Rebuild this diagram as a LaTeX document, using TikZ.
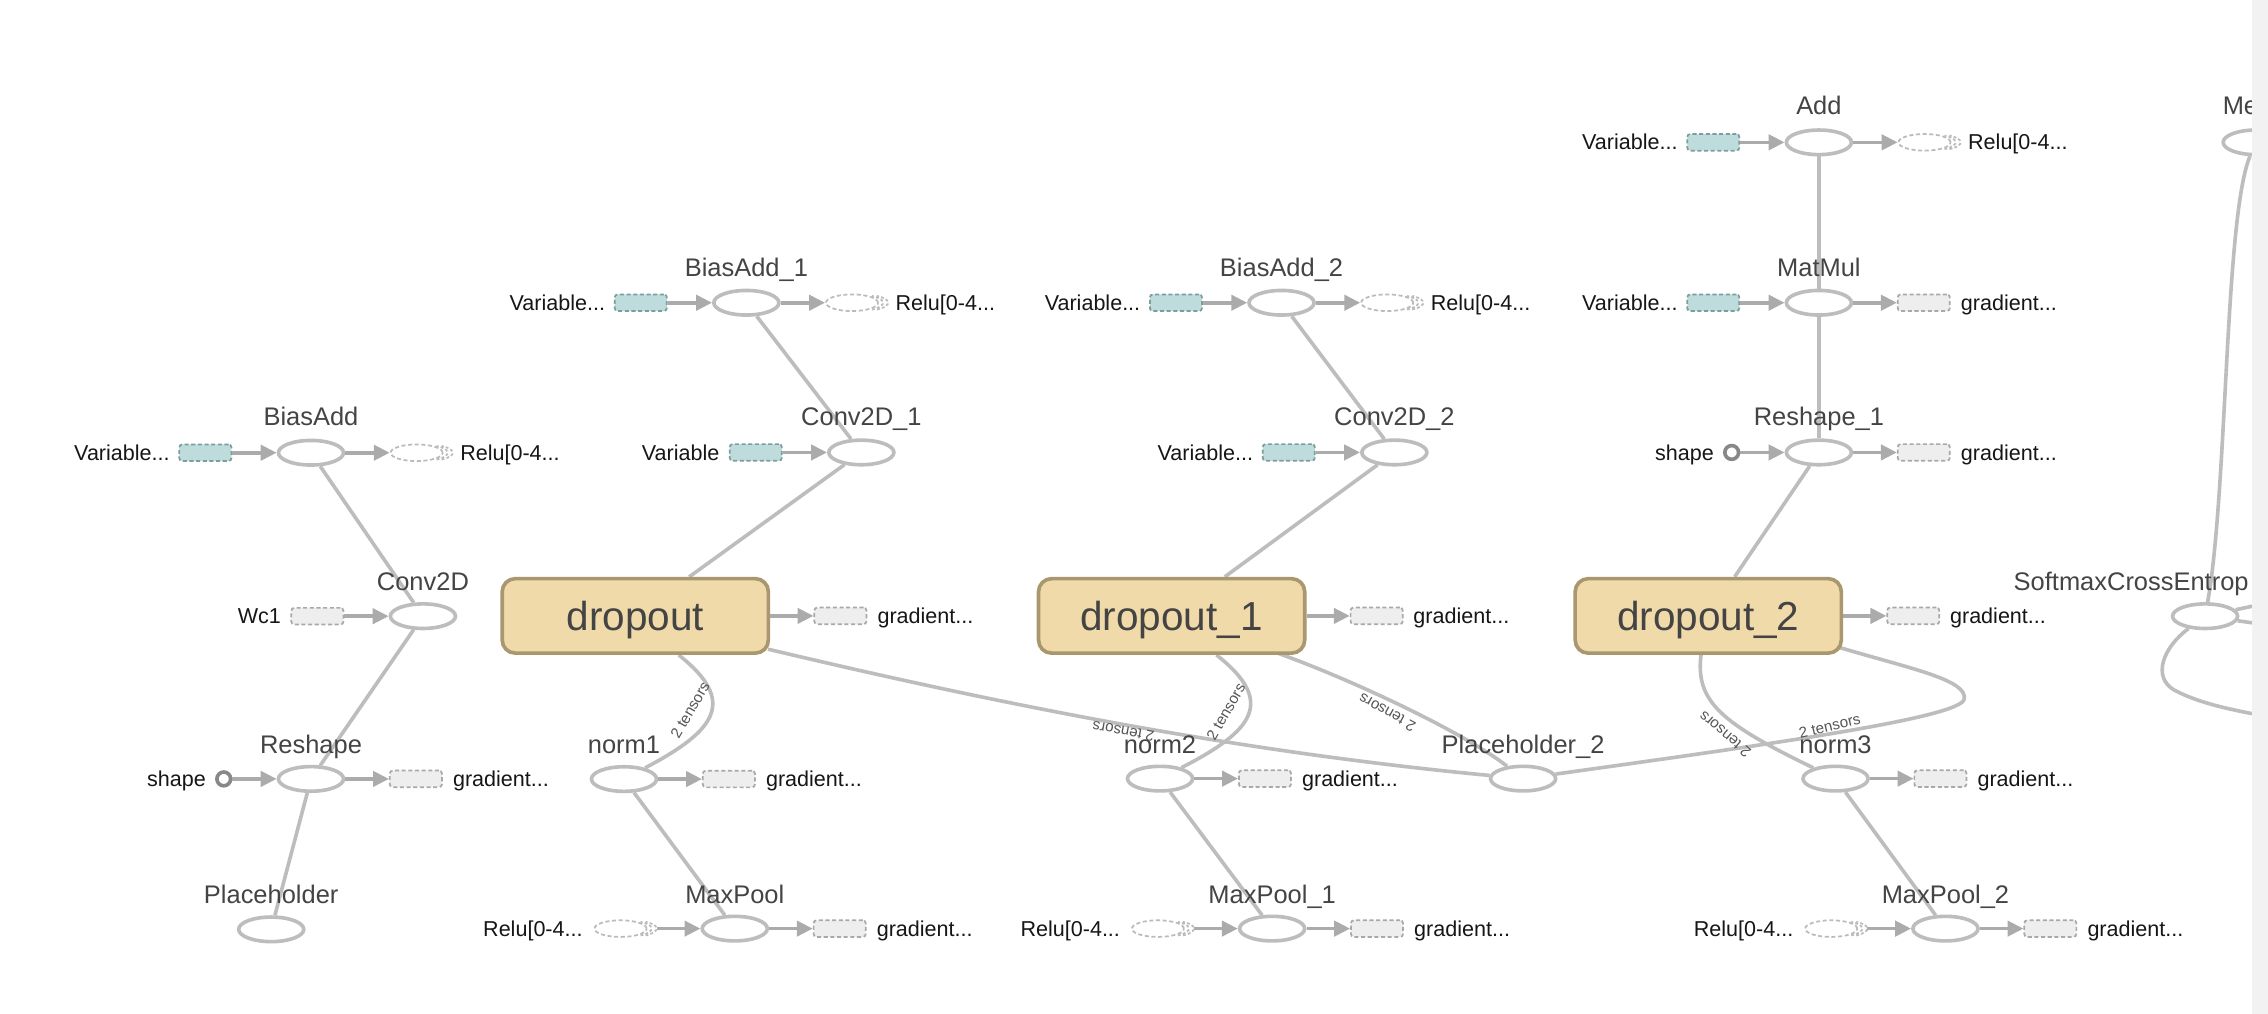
\documentclass[tikz,border=0pt]{standalone}
\usepackage{fontspec}
\setmainfont{Liberation Sans}
\usetikzlibrary{shapes.geometric,arrows.meta}
\pgfdeclarelayer{bg}
\pgfsetlayers{bg,main}
\definecolor{edgec}{HTML}{BDBDBD}
\definecolor{arrc}{HTML}{ABABAB}
\definecolor{labc}{HTML}{444444}
\definecolor{sidec}{HTML}{161616}
\definecolor{dropf}{HTML}{F0DAA9}
\definecolor{dropb}{HTML}{A8976F}
\definecolor{varf}{HTML}{BDDCDB}
\definecolor{varb}{HTML}{7E9E9E}
\definecolor{gradf}{HTML}{EEEEEE}
\definecolor{gradb}{HTML}{A9A9A9}
\definecolor{serc}{HTML}{BBBBBB}
\definecolor{shapeb}{HTML}{888888}
\definecolor{panelc}{HTML}{F2F2F2}
\definecolor{tensc}{HTML}{555555}
\newcommand{\serarcs}[1]{%
  \foreach \dx in {3.5,7}{%
    \draw[serarc] ([xshift=\dx pt]#1.center) ++(-55:18pt and 5.75pt)
      arc[start angle=-55,end angle=55,x radius=18pt,y radius=5.75pt];}}
\begin{document}
\begin{tikzpicture}[x=1pt,y=-1pt,
  opnode/.style={ellipse,draw=edgec,fill=white,line width=2.5pt,minimum width=45pt,minimum height=17pt,inner sep=0pt},
  metabox/.style={rectangle,rounded corners=9pt,draw=dropb,fill=dropf,line width=2.5pt,minimum width=184pt,minimum height=51.5pt,inner sep=0pt,text=labc,font=\fontsize{28}{30}\selectfont,text height=26pt,text depth=5.8pt},
  varbox/.style={rectangle,rounded corners=2pt,draw=varb,fill=varf,line width=1.2pt,dash pattern=on 2.8pt off 1.8pt,minimum width=36pt,minimum height=11.5pt,inner sep=0pt},
  gradbox/.style={varbox,draw=gradb,fill=gradf},
  seriesnode/.style={ellipse,draw=serc,line width=1.2pt,dash pattern=on 2.8pt off 1.8pt,minimum width=36pt,minimum height=11.5pt,inner sep=0pt},
  serarc/.style={draw=serc,line width=1.2pt,dash pattern=on 2pt off 1.5pt},
  shapenode/.style={circle,draw=shapeb,fill=white,line width=2.5pt,minimum size=9.5pt,inner sep=0pt},
  nlab/.style={anchor=base,inner sep=0pt,text=labc,font=\fontsize{17.6}{19}\selectfont},
  stxt/.style={inner sep=0pt,text=sidec,font=\fontsize{14.9}{16}\selectfont},
  link/.style={draw=edgec,line width=2.5pt},
  arr/.style={draw=arrc,line width=2.5pt,-{Triangle[length=11pt,width=10.5pt]}},
  tens/.style={inner sep=0pt,text=tensc,font=\fontsize{10.5}{11}\selectfont}]
\useasboundingbox (0,0) rectangle (1568,701);
\begin{pgfonlayer}{bg}
\fill[white] (0,0) rectangle (1568,701);
\end{pgfonlayer}

% ---------- group 1 ----------
\node[opnode] (BiasAdd) at (215,313) {};
\node[nlab] (BiasAdd-l) at (215,294.5) {BiasAdd};
\node[varbox] (BiasAdd-v) at (142,313) {};
\node[stxt,anchor=base east] (BiasAdd-vt) at (117.5,318.3) {Variable...};
\node[seriesnode] (BiasAdd-r) at (288,313) {};
\serarcs{BiasAdd-r}
\node[stxt,anchor=base west] (BiasAdd-rt) at (318,318.3) {Relu[0-4...};

\node[opnode] (Conv2D) at (292.4,426) {};
\node[nlab] (Conv2D-l) at (292.4,407.9) {Conv2D};
\node[gradbox] (Conv2D-v) at (219.4,426) {};
\node[stxt,anchor=base east] (Conv2D-vt) at (194.4,431.3) {Wc1};

\node[opnode] (Reshape) at (215,538.5) {};
\node[nlab] (Reshape-l) at (215,520.8) {Reshape};
\node[shapenode] (Reshape-s) at (154.7,538.5) {};
\node[stxt,anchor=base east] (Reshape-st) at (142.5,543.8) {shape};
\node[gradbox] (Reshape-g) at (287.5,538.5) {};
\node[stxt,anchor=base west] (Reshape-gt) at (313,543.8) {gradient...};

\node[opnode] (Placeholder) at (187.5,642.5) {};
\node[nlab] (Placeholder-l) at (187.5,624.5) {Placeholder};

% ---------- group 2 ----------
\node[opnode] (BiasAdd1) at (516,209.3) {};
\node[nlab] (BiasAdd1-l) at (516,191.3) {BiasAdd\_1};
\node[varbox] (BiasAdd1-v) at (443,209.3) {};
\node[stxt,anchor=base east] (BiasAdd1-vt) at (418.5,214.6) {Variable...};
\node[seriesnode] (BiasAdd1-r) at (589,209.3) {};
\serarcs{BiasAdd1-r}
\node[stxt,anchor=base west] (BiasAdd1-rt) at (619,214.6) {Relu[0-4...};

\node[opnode] (Conv2D1) at (595.5,312.8) {};
\node[nlab] (Conv2D1-l) at (595.5,294.5) {Conv2D\_1};
\node[varbox] (Conv2D1-v) at (522.5,312.8) {};
\node[stxt,anchor=base east] (Conv2D1-vt) at (497.5,318.1) {Variable};

\node[metabox] (dropout) at (439.2,425.8) {dropout};
\node[gradbox] (dropout-g) at (581,425.8) {};
\node[stxt,anchor=base west] (dropout-gt) at (606.5,431.1) {gradient...};

\node[opnode] (norm1) at (431.4,538.6) {};
\node[nlab] (norm1-l) at (431.4,520.8) {norm1};
\node[gradbox] (norm1-g) at (503.9,538.6) {};
\node[stxt,anchor=base west] (norm1-gt) at (529.4,543.9) {gradient...};

\node[opnode] (MaxPool) at (508,642) {};
\node[nlab] (MaxPool-l) at (508,624.5) {MaxPool};
\node[seriesnode] (MaxPool-r) at (429,642) {};
\serarcs{MaxPool-r}
\node[stxt,anchor=base east] (MaxPool-rt) at (403,647.3) {Relu[0-4...};
\node[gradbox] (MaxPool-g) at (580.5,642) {};
\node[stxt,anchor=base west] (MaxPool-gt) at (606,647.3) {gradient...};

% ---------- group 3 ----------
\node[opnode] (BiasAdd2) at (886,209.3) {};
\node[nlab] (BiasAdd2-l) at (886,191.3) {BiasAdd\_2};
\node[varbox] (BiasAdd2-v) at (813,209.3) {};
\node[stxt,anchor=base east] (BiasAdd2-vt) at (788.5,214.6) {Variable...};
\node[seriesnode] (BiasAdd2-r) at (959,209.3) {};
\serarcs{BiasAdd2-r}
\node[stxt,anchor=base west] (BiasAdd2-rt) at (989,214.6) {Relu[0-4...};

\node[opnode] (Conv2D2) at (964,312.8) {};
\node[nlab] (Conv2D2-l) at (964,294.5) {Conv2D\_2};
\node[varbox] (Conv2D2-v) at (891,312.8) {};
\node[stxt,anchor=base east] (Conv2D2-vt) at (866.5,318.1) {Variable...};

\node[metabox] (dropout1) at (810,425.8) {dropout\_1};
\node[gradbox] (dropout1-g) at (951.75,425.8) {};
\node[stxt,anchor=base west] (dropout1-gt) at (977,431.1) {gradient...};

\node[opnode] (norm2) at (802,538.3) {};
\node[nlab] (norm2-l) at (802,520.8) {norm2};
\node[gradbox] (norm2-g) at (874.5,538.3) {};
\node[stxt,anchor=base west] (norm2-gt) at (900,543.6) {gradient...};

\node[opnode] (MaxPool1) at (879.5,642) {};
\node[nlab] (MaxPool1-l) at (879.5,624.5) {MaxPool\_1};
\node[seriesnode] (MaxPool1-r) at (800.5,642) {};
\serarcs{MaxPool1-r}
\node[stxt,anchor=base east] (MaxPool1-rt) at (774.5,647.3) {Relu[0-4...};
\node[gradbox] (MaxPool1-g) at (952,642) {};
\node[stxt,anchor=base west] (MaxPool1-gt) at (977.5,647.3) {gradient...};

\node[opnode] (Placeholder2) at (1053,538.3) {};
\node[nlab] (Placeholder2-l) at (1053,520.8) {Placeholder\_2};

% ---------- group 4 ----------
\node[opnode] (Add) at (1257.5,98.4) {};
\node[nlab] (Add-l) at (1257.5,79.5) {Add};
\node[varbox] (Add-v) at (1184.5,98.4) {};
\node[stxt,anchor=base east] (Add-vt) at (1160,103.7) {Variable...};
\node[seriesnode] (Add-r) at (1330.5,98.4) {};
\serarcs{Add-r}
\node[stxt,anchor=base west] (Add-rt) at (1360.5,103.7) {Relu[0-4...};

\node[opnode] (MatMul) at (1257.5,209.3) {};
\node[nlab] (MatMul-l) at (1257.5,191.3) {MatMul};
\node[varbox] (MatMul-v) at (1184.5,209.3) {};
\node[stxt,anchor=base east] (MatMul-vt) at (1160,214.6) {Variable...};
\node[gradbox] (MatMul-g) at (1330,209.3) {};
\node[stxt,anchor=base west] (MatMul-gt) at (1355.5,214.6) {gradient...};

\node[opnode] (Reshape1) at (1257.5,312.8) {};
\node[nlab] (Reshape1-l) at (1257.5,294.5) {Reshape\_1};
\node[shapenode] (Reshape1-s) at (1197.2,312.8) {};
\node[stxt,anchor=base east] (Reshape1-st) at (1185,318.1) {shape};
\node[gradbox] (Reshape1-g) at (1330,312.8) {};
\node[stxt,anchor=base west] (Reshape1-gt) at (1355.5,318.1) {gradient...};

\node[metabox] (dropout2) at (1181,425.8) {dropout\_2};
\node[gradbox] (dropout2-g) at (1322.75,425.8) {};
\node[stxt,anchor=base west] (dropout2-gt) at (1348,431.1) {gradient...};

\node[opnode] (norm3) at (1269,538.3) {};
\node[nlab] (norm3-l) at (1269,520.8) {norm3};
\node[gradbox] (norm3-g) at (1341.5,538.3) {};
\node[stxt,anchor=base west] (norm3-gt) at (1367,543.6) {gradient...};

\node[opnode] (MaxPool2) at (1345,642) {};
\node[nlab] (MaxPool2-l) at (1345,624.5) {MaxPool\_2};
\node[seriesnode] (MaxPool2-r) at (1266,642) {};
\serarcs{MaxPool2-r}
\node[stxt,anchor=base east] (MaxPool2-rt) at (1240,647.3) {Relu[0-4...};
\node[gradbox] (MaxPool2-g) at (1417.5,642) {};
\node[stxt,anchor=base west] (MaxPool2-gt) at (1443,647.3) {gradient...};

% ---------- right edge ----------
\node[opnode] (Softmax) at (1524.5,426) {};
\node[nlab,anchor=base west] (Softmax-l) at (1392,407.9) {SoftmaxCrossEntrop};
\node[opnode] (Me) at (1559.5,98.4) {};
\node[nlab,anchor=base west] (Me-l) at (1536.5,79.5) {Me};
\coordinate (sx1) at (1560,418.5);
\coordinate (sx2) at (1560,431);
\coordinate (sx3) at (1560,494);

% ---------- edges ----------
\begin{pgfonlayer}{bg}
\draw[link] (BiasAdd) -- (Conv2D);
\draw[link] (Conv2D) -- (Reshape);
\draw[link] (Reshape) -- (Placeholder);
\draw[link] (BiasAdd1) -- (Conv2D1);
\draw[link] (Conv2D1) -- (dropout);
\draw[link] (norm1) -- (MaxPool);
\draw[link] (BiasAdd2) -- (Conv2D2);
\draw[link] (Conv2D2) -- (dropout1);
\draw[link] (norm2) -- (MaxPool1);
\draw[link] (Add) -- (MatMul);
\draw[link] (MatMul) -- (Reshape1);
\draw[link] (Reshape1) -- (dropout2);
\draw[link] (norm3) -- (MaxPool2);
\draw[link] ([xshift=30pt]dropout.south) .. controls (510,485) and (495,505) .. (norm1);
\draw[link] ([xshift=31pt]dropout1.south) .. controls (882,485) and (867,505) .. (norm2);
\draw[link] ([shift={(-1.5pt,4pt)}]dropout.south east) .. controls (700,489) and (860,520) .. (Placeholder2);
\draw[link] ([xshift=-22pt,yshift=2pt]dropout1.south east) .. controls (930,468) and (1010,505) .. (Placeholder2);
\draw[link] ([xshift=-5pt]dropout2.south) .. controls (1172,485) and (1190,500) .. (norm3);
\draw[link] ([shift={(-2pt,5pt)}]dropout2.south east) .. controls (1320,462) and (1360,470) .. (1358,483)
   .. controls (1358,496) and (1220,515) .. (Placeholder2);
\draw[link] (Me) .. controls (1538,150) and (1540,340) .. (Softmax);
\draw[link] (Softmax) -- (sx1);
\draw[link] (Softmax) -- (sx2);
\draw[link] (Softmax) .. controls (1495,448) and (1488,468) .. (1503,477) .. controls (1520,486) and (1540,490) .. (sx3);
\end{pgfonlayer}

% edge labels
\node[tens,rotate=60] (t1) at (477,491) {2 tensors};
\node[tens,rotate=169.8] (t2) at (776.6,505.8) {2 tensors};
\node[tens,rotate=60] (t3) at (847.5,492) {2 tensors};
\node[tens,rotate=151] (t4) at (959,492.6) {2 tensors};
\node[tens,rotate=140] (t5) at (1192.5,507.6) {2 tensors};
\node[tens,rotate=13] (t6) at (1265,501.9) {2 tensors};

% ---------- arrows ----------
\draw[arr] (BiasAdd-v) -- (BiasAdd);
\draw[arr] (BiasAdd) -- (BiasAdd-r);
\draw[arr] (Conv2D-v) -- (Conv2D);
\draw[arr] (Reshape-s) -- (Reshape);
\draw[arr] (Reshape) -- (Reshape-g);
\draw[arr] (BiasAdd1-v) -- (BiasAdd1);
\draw[arr] (BiasAdd1) -- (BiasAdd1-r);
\draw[arr] (Conv2D1-v) -- (Conv2D1);
\draw[arr] (dropout) -- (dropout-g);
\draw[arr] (norm1) -- (norm1-g);
\draw[arr] ([xshift=25pt]MaxPool-r.center) -- (MaxPool);
\draw[arr] (MaxPool) -- (MaxPool-g);
\draw[arr] (BiasAdd2-v) -- (BiasAdd2);
\draw[arr] (BiasAdd2) -- (BiasAdd2-r);
\draw[arr] (Conv2D2-v) -- (Conv2D2);
\draw[arr] (dropout1) -- (dropout1-g);
\draw[arr] (norm2) -- (norm2-g);
\draw[arr] ([xshift=25pt]MaxPool1-r.center) -- (MaxPool1);
\draw[arr] (MaxPool1) -- (MaxPool1-g);
\draw[arr] (Add-v) -- (Add);
\draw[arr] (Add) -- (Add-r);
\draw[arr] (MatMul-v) -- (MatMul);
\draw[arr] (MatMul) -- (MatMul-g);
\draw[arr] (Reshape1-s) -- (Reshape1);
\draw[arr] (Reshape1) -- (Reshape1-g);
\draw[arr] (dropout2) -- (dropout2-g);
\draw[arr] (norm3) -- (norm3-g);
\draw[arr] ([xshift=25pt]MaxPool2-r.center) -- (MaxPool2);
\draw[arr] (MaxPool2) -- (MaxPool2-g);

% side panel
\fill[panelc] (1557,0) rectangle (1568,701);
\end{tikzpicture}
\end{document}
